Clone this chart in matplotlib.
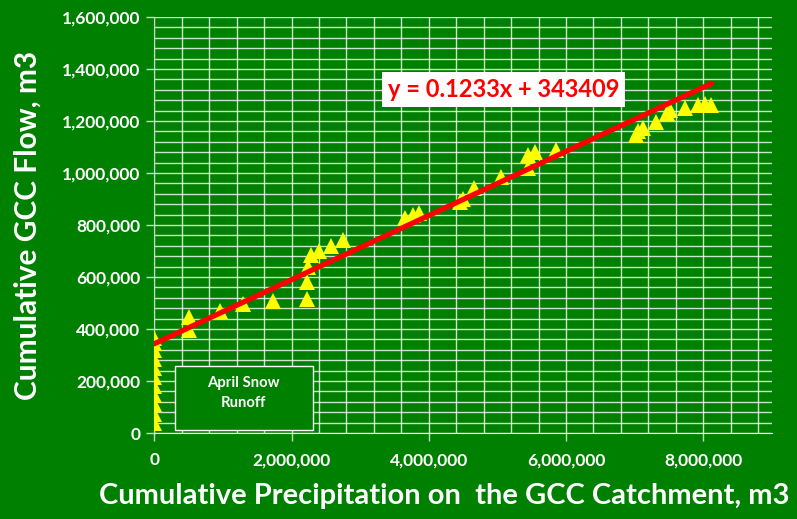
import numpy as np
import matplotlib
matplotlib.use("Agg")
import matplotlib.pyplot as plt
from matplotlib.ticker import MultipleLocator, FuncFormatter
from matplotlib.patches import Rectangle

plt.rcParams['font.family'] = ['Lato', 'DejaVu Sans']

# cumulative precipitation (m3) and cumulative GCC flow (m3)
precip = [0, 0, 0, 0, 0, 0, 0, 0, 0, 0, 0,
          510000, 510000, 950000, 1290000, 1730000,
          2230000, 2230000, 2240000, 2280000, 2400000, 2580000, 2750000,
          3650000, 3770000, 3860000, 4450000, 4500000, 4660000, 5050000,
          5450000, 5450000, 5550000, 5860000,
          7020000, 7050000, 7120000, 7310000, 7470000, 7520000, 7730000,
          7930000, 8030000, 8120000]
flow = [40000, 75000, 110000, 145000, 180000, 215000, 250000, 285000, 320000, 345000, 365000,
        446000, 395000, 470000, 498000, 508000,
        515000, 579000, 640000, 685000, 700000, 719000, 742000,
        827000, 838000, 846000, 888000, 900000, 942000, 985000,
        1019000, 1069000, 1081000, 1088000,
        1146000, 1160000, 1173000, 1197000, 1231000, 1242000, 1250000,
        1263000, 1265000, 1263000]

slope = 0.1233
intercept = 343409
eq_label = "y = 0.1233x + 343409"
note_label = "April Snow\nRunoff"

bg = "#008000"

fig = plt.figure(figsize=(7.97, 5.19), dpi=100, facecolor=bg)
ax = fig.add_axes([0.1937, 0.1657, 0.9684 - 0.1937, 0.9672 - 0.1657])
ax.set_facecolor(bg)

ax.set_xlim(0, 9000000)
ax.set_ylim(0, 1600000)

# grid every 400k / 40k, labels every 2M / 200k
ax.xaxis.set_major_locator(MultipleLocator(2000000))
ax.xaxis.set_minor_locator(MultipleLocator(400000))
ax.yaxis.set_major_locator(MultipleLocator(200000))
ax.yaxis.set_minor_locator(MultipleLocator(40000))
ax.grid(which='both', color='white', alpha=0.8, lw=1.0, zorder=0)
ax.set_axisbelow(True)

fmt = FuncFormatter(lambda v, p: "{:,.0f}".format(v))
ax.xaxis.set_major_formatter(fmt)
ax.yaxis.set_major_formatter(fmt)
ax.tick_params(which='major', length=6, width=1, color='#c8d8c8',
               labelcolor='white', labelsize=12.5)
ax.tick_params(which='minor', length=0)
for lab in ax.get_xticklabels() + ax.get_yticklabels():
    lab.set_fontweight('bold')
ax.tick_params(axis='x', pad=8)
ax.tick_params(axis='y', pad=4)

for s in ['top', 'right']:
    ax.spines[s].set_visible(False)
ax.spines['left'].set_color('#c8d8c8')
ax.spines['bottom'].set_color('white')

ax.plot(precip, flow, linestyle='none', marker='^', markersize=12,
        color='#ffff00', markeredgewidth=0, zorder=3)

xs = np.array([0, max(precip)])
ax.plot(xs, slope * xs + intercept, color='#ff0000', lw=3.8,
        solid_capstyle='round', zorder=4)

ax.text(3400000, 1320000, eq_label, color='#ff0000', fontsize=17,
        fontweight='bold', ha='left', va='center', zorder=5,
        bbox=dict(boxstyle='square,pad=0.25', fc='white', ec='none'))

# "April Snow Runoff" note box
ax.add_patch(Rectangle((300000, 12000), 2010000, 246000, fc=bg, ec='white',
                       lw=1, zorder=5))
ax.text(1300000, 154000, note_label, color='white', fontsize=10.7,
        fontweight='bold', ha='center', va='center', zorder=6,
        linespacing=1.5)

ax.set_ylabel("Cumulative GCC Flow, m3", color='white', fontsize=21.5,
              fontweight='bold')
ax.yaxis.set_label_coords(-0.182, 0.5)
ax.set_xlabel("Cumulative Precipitation on  the GCC Catchment, m3",
              color='white', fontsize=21, fontweight='bold')
ax.xaxis.set_label_coords(0.47, -0.12)

fig.savefig("out.png", dpi=100, facecolor=bg)
